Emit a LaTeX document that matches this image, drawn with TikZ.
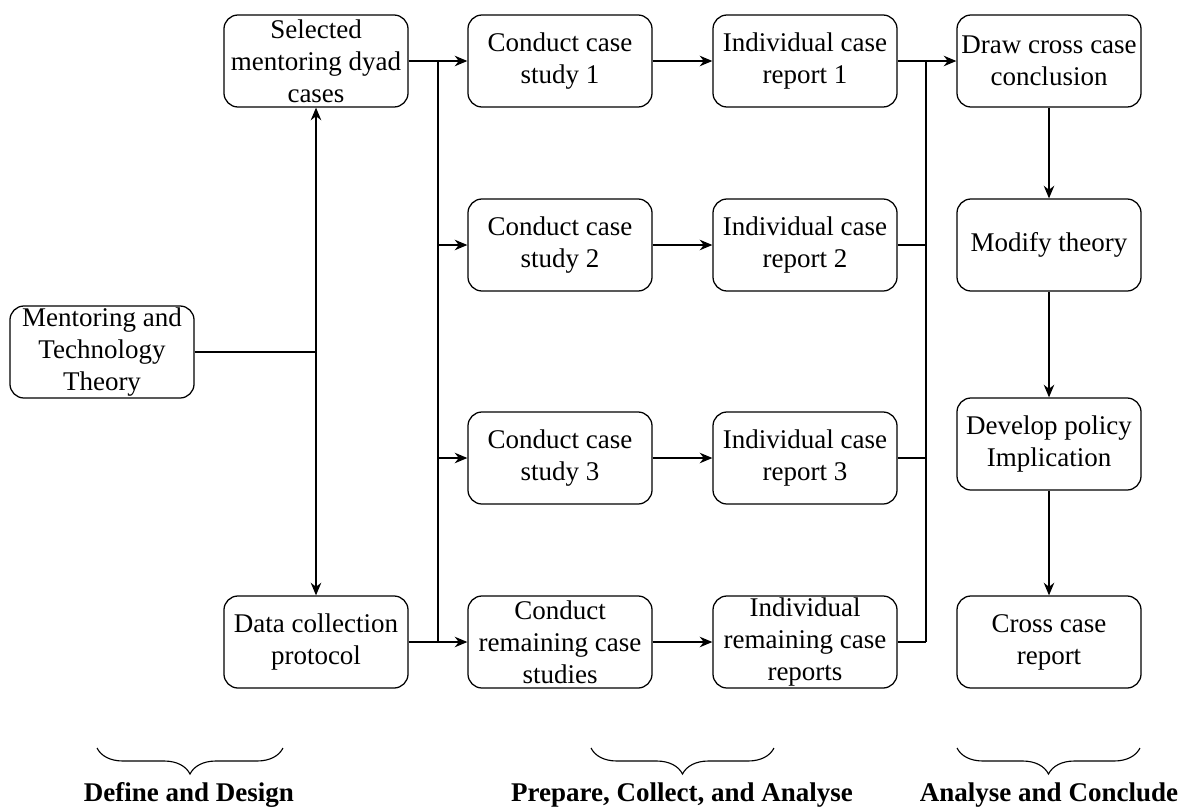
\documentclass[tikz,border=0pt]{standalone}
\usepackage{fontspec}
\setmainfont{Liberation Serif}
\usepackage{tikz}
\usetikzlibrary{arrows.meta,decorations.pathreplacing}
\tikzstyle{block}=[rectangle,draw,line width=0.9pt,rounded corners=10pt,minimum width=4.6cm,minimum height=2.3cm,align=center,inner xsep=2pt,inner ysep=0pt,font=\fontsize{19.2}{22.8}\selectfont]
\tikzstyle{edge} = [draw,line width=0.9pt,-]
\tikzstyle{arrow} = [draw,line width=0.9pt,-{Stealth[length=9pt,width=7.5pt]}]
\tikzstyle{phase}=[font=\fontsize{19.2}{22.8}\selectfont\bfseries]
\tikzstyle{stagebrace}=[draw,line width=0.8pt,decorate,decoration={brace,mirror,amplitude=0.65cm}]

\begin{document}
\begin{tikzpicture}[x=0.025cm,y=-0.025cm]
    \useasboundingbox (0,0) rectangle (1191,809);
    % Draw the case study design
    % First we draw the blocks
    \foreach \pos/\name/\txt in {{(102,352)/theory/{Mentoring and\\Technology\\Theory}},
        {(316,61)/select/{Selected\\mentoring dyad\\cases}}, {(316,642)/protocol/{Data collection\\protocol}},
        {(560,61)/study1/{Conduct case\\study 1}}, {(560,245)/study2/{Conduct case\\study 2}},
        {(560,458)/study3/{Conduct case\\study 3}}, {(560,642)/studyR/{Conduct\\remaining case\\studies}},
        {(805,61)/report1/{Individual case\\report 1}}, {(805,245)/report2/{Individual case\\report 2}},
        {(805,458)/report3/{Individual case\\report 3}}, {(805,642)/reportR/{Individual\\remaining case\\reports}},
        {(1049,61)/cross/{Draw cross case\\conclusion}}, {(1049,245)/modify/{Modify theory}},
        {(1049,444)/policy/{Develop policy\\Implication}}, {(1049,642)/final/{Cross case\\report}}}
        \node[block] (\name) at \pos {\txt};

    % Junctions of the buses
    \coordinate (hub) at (316,352);
    \coordinate (ltop) at (438,61);
    \coordinate (lbot) at (438,642);
    \coordinate (rtop) at (926,61);
    \coordinate (rbot) at (926,642);

    % Connect blocks with edges
    \path[edge] (theory) -- (hub);
    \path[arrow] (hub) -- (select);
    \path[arrow] (hub) -- (protocol);
    \path[edge] (ltop) -- (lbot);
    \path[arrow] (select) -- (study1);
    \path[arrow] (protocol) -- (studyR);
    \foreach \dest in {study2, study3}
        \path[arrow] (\dest -| ltop) -- (\dest);
    \foreach \source/ \dest in {study1/report1, study2/report2, study3/report3, studyR/reportR}
        \path[arrow] (\source) -- (\dest);
    \path[edge] (rtop) -- (rbot);
    \foreach \source in {report2, report3, reportR}
        \path[edge] (\source) -- (\source -| rtop);
    \path[arrow] (report1) -- (cross);
    \foreach \source/ \dest in {cross/modify, modify/policy, policy/final}
        \path[arrow] (\source) -- (\dest);

    % Phases
    \path[stagebrace] (97,748) -- (283,748);
    \path[stagebrace] (591,748) -- (774,748);
    \path[stagebrace] (957,748) -- (1140,748);
    \node[phase] (define) at (189,795) {Define and Design};
    \node[phase] (prepare) at (682,795) {Prepare, Collect, and Analyse};
    \node[phase] (conclude) at (1049,795) {Analyse and Conclude};
\end{tikzpicture}
\end{document}
